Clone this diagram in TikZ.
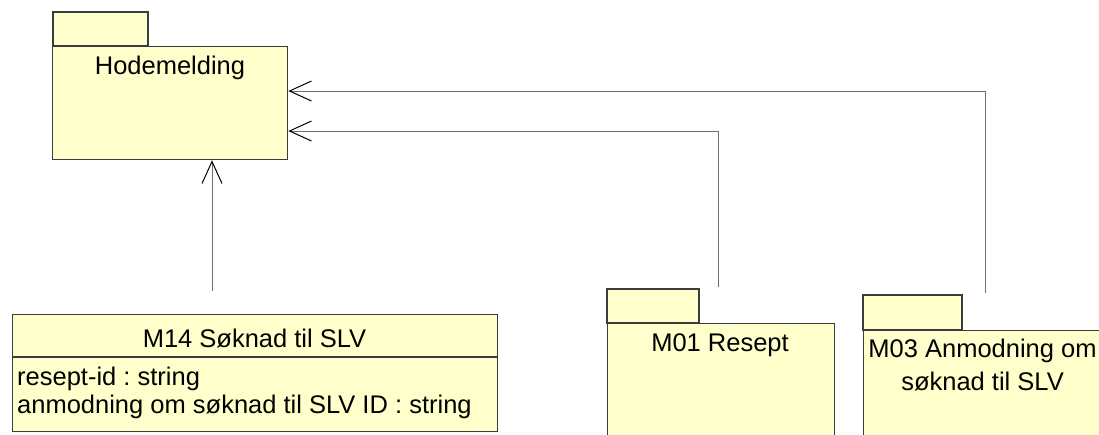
\documentclass[tikz,border=0pt]{standalone}
\usepackage{fontspec}
\setmainfont{Liberation Sans}
\usetikzlibrary{arrows.meta}
\frenchspacing
\definecolor{pkgfill}{RGB}{255,255,204}
\definecolor{pkgline}{RGB}{60,60,60}
\definecolor{connline}{RGB}{110,110,110}
\tikzset{
  pkgshape/.style={draw=pkgline, fill=pkgfill, line width=1.3pt},
  lbl/.style={inner sep=0pt, font=\fontsize{25.5}{29.5}\selectfont},
  conn/.style={draw=connline, line width=1pt,
    -{Straight Barb[length=22pt, width=20pt, color=black, line width=1pt]}},
}
\begin{document}
\begin{tikzpicture}[x=1pt, y=-1pt]
\useasboundingbox (0,0) rectangle (1099,434);
% Hodemelding package
\draw[pkgshape] (53,12) rectangle (148,46);
\node[pkgshape, anchor=north west, minimum width=235pt, minimum height=113pt, inner sep=0pt] (hode) at (52,46) {};
\node[lbl, anchor=base] (hodetxt) at (170,74) {Hodemelding};
% M14 class
\node[pkgshape, anchor=north west, minimum width=485pt, minimum height=117pt, inner sep=0pt] (m14) at (12,314) {};
\draw[pkgline, line width=1.3pt] (m14.west |- 0,357) -- (m14.east |- 0,357);
\node[lbl, anchor=base] (m14title) at (254.5,347) {M14 Søknad til SLV};
\node[lbl, anchor=base west] (m14a1) at (17,385) {resept-id : string};
\node[lbl, anchor=base west] (m14a2) at (17,413) {anmodning om søknad til SLV ID : string};
% M01 package
\draw[pkgshape] (607,289) rectangle (699,323);
\node[pkgshape, anchor=north west, minimum width=227pt, minimum height=130pt, inner sep=0pt] (m01) at (607,323) {};
\node[lbl, anchor=base] (m01txt) at (720,351) {M01 Resept};
% M03 package
\draw[pkgshape] (863,295) rectangle (962,330);
\node[pkgshape, anchor=north west, minimum width=243pt, minimum height=130pt, inner sep=0pt] (m03) at (863,330) {};
\node[lbl, anchor=base] (m03txt1) at (982.5,357) {M03 Anmodning om};
\node[lbl, anchor=base] (m03txt2) at (982.5,390) {søknad til SLV};
% connectors
\coordinate (m14top) at (212,291);
\coordinate (m01top) at (718,287);
\coordinate (m01bend) at (718,131);
\coordinate (m03top) at (985,293);
\coordinate (m03bend) at (985,91);
\draw[conn] (m14top) -- (m14top |- hode.south);
\draw[conn] (m01top) -- (m01bend) -- (hode.east |- m01bend);
\draw[conn] (m03top) -- (m03bend) -- (hode.east |- m03bend);
\end{tikzpicture}
\end{document}
